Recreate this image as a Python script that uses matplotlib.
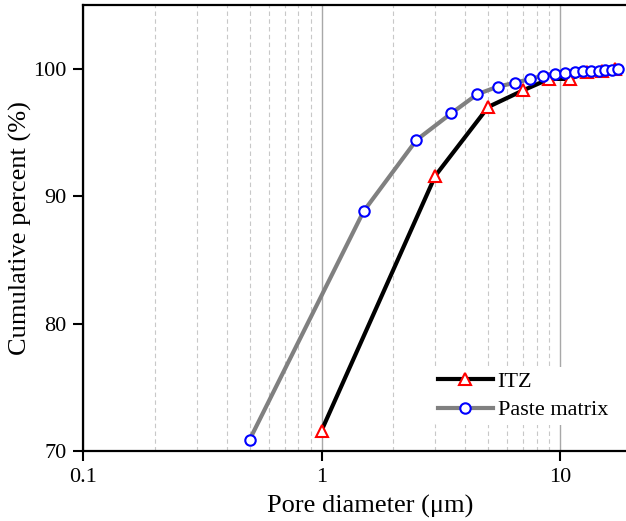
import matplotlib.pyplot as plt
from matplotlib.ticker import LogLocator, NullFormatter, FixedLocator

plt.rcParams['font.family'] = ['Liberation Serif', 'DejaVu Serif']

itz_d = [1, 3, 5, 7, 9, 11, 13, 15, 17]
itz_pct = [71.6, 91.6, 97.0, 98.3, 99.2, 99.2, 99.75, 99.85, 100.0]

paste_d = [0.5, 1.5, 2.5, 3.5, 4.5, 5.5, 6.5, 7.5, 8.5, 9.5,
           10.5, 11.5, 12.5, 13.5, 14.5, 15.5, 16.5, 17.5]
paste_pct = [70.9, 88.8, 94.4, 96.5, 98.0, 98.6, 98.9, 99.2, 99.45, 99.6,
             99.7, 99.75, 99.8, 99.82, 99.84, 99.86, 99.88, 100.0]

fig = plt.figure(figsize=(6.26, 5.21), dpi=100)
# the axes run on past the right edge of the picture, as in the reference
ax = fig.add_axes([83/626, 1 - 451/521, (657 - 83)/626, (451 - 5)/521])

ax.plot(itz_d, itz_pct, "-", color="black", lw=3, marker="^", ms=8.5,
        mfc="white", mec="red", mew=1.5, label="ITZ", zorder=3)
ax.plot(paste_d, paste_pct, "-", color="gray", lw=3, marker="o", ms=7.5,
        mfc="white", mec="blue", mew=1.5, label="Paste matrix", zorder=4)

ax.set_xscale("log")
ax.set_xlim(0.1, 25.5)
ax.set_ylim(70, 105)
ax.xaxis.set_major_locator(FixedLocator([0.1, 1, 10]))
ax.set_xticklabels(["0.1", "1", "10"])
ax.xaxis.set_minor_locator(LogLocator(base=10, subs=[2, 3, 4, 5, 6, 7, 8, 9]))
ax.xaxis.set_minor_formatter(NullFormatter())
ax.set_yticks([70, 80, 90, 100])

ax.grid(which="major", axis="x", color="#a8a8a8", lw=1.0, ls="-")
ax.grid(which="minor", axis="x", color="#c8c8c8", lw=0.8, ls=(0, (4, 3)))
ax.set_axisbelow(True)

ax.tick_params(which="major", direction="out", length=7, width=1.5,
               labelsize=16, pad=5)
ax.tick_params(which="minor", length=0)
for s in ["left", "bottom", "top"]:
    ax.spines[s].set_linewidth(1.6)
ax.spines["right"].set_visible(False)

ax.set_xlabel("Pore diameter (\u03bcm)", fontsize=19, labelpad=6)
ax.set_ylabel("Cumulative percent (%)", fontsize=19, labelpad=1)

leg = ax.legend(loc="lower left", bbox_to_anchor=(422/626, 1 - 436/521),
                bbox_transform=fig.transFigure, fontsize=16, frameon=True,
                framealpha=1, edgecolor="none", handlelength=2.5,
                handletextpad=0.2, labelspacing=0.35, borderpad=0.2)

fig.savefig("out.png", dpi=100)
